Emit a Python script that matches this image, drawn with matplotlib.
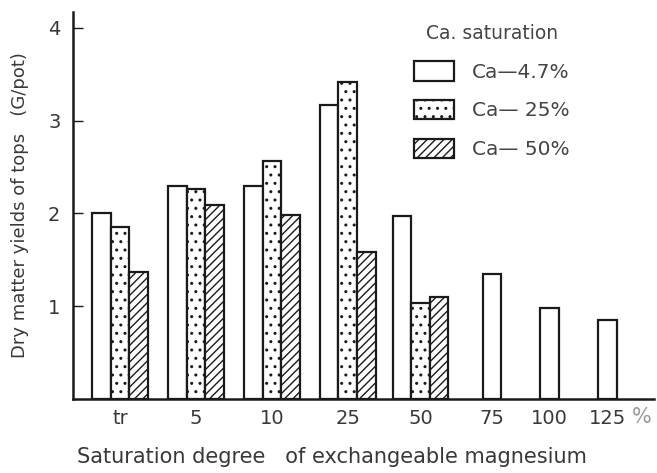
import matplotlib
matplotlib.use("Agg")
import matplotlib.pyplot as plt
from matplotlib.patches import Patch

plt.rcParams['font.family'] = ['DejaVu Sans']
plt.rcParams['hatch.linewidth'] = 1.0

# Mg saturation levels and dry matter yields (G/pot) for each Ca level
mg_levels = ['tr', '5', '10', '25', '50', '75', '100', '125']
ca_4_7 = [2.00, 2.30, 2.29, 3.17, 1.97, 1.35, 0.98, 0.85]
ca_25 = [1.85, 2.26, 2.56, 3.41, 1.04]
ca_50 = [1.37, 2.09, 1.98, 1.59, 1.10]
series_names = ['Ca\u20144.7%', 'Ca\u2014 25%', 'Ca\u2014 50%']

# group centres: three-bar groups are wider apart than the single bars
centres = [0, 1, 2, 3, 3.96, 4.9, 5.66, 6.42]
w = 0.245
ink = '#1a1a1a'
txt = '#383838'

fig = plt.figure(figsize=(6.57, 4.73), dpi=100)
ax = fig.add_axes([0.111, 0.156, 0.885, 0.819])

n3 = len(ca_25)
x_white = [c - w if i < n3 else c for i, c in enumerate(centres)]
ax.bar(x_white, ca_4_7, width=w, facecolor='white', edgecolor=ink, linewidth=1.6)
ax.bar(centres[:n3], ca_25, width=w, facecolor='white', edgecolor=ink,
       linewidth=1.6, hatch='..')
ax.bar([c + w for c in centres[:n3]], ca_50, width=w, facecolor='white',
       edgecolor=ink, linewidth=1.6, hatch='////')

ax.set_xlim(-0.62, 7.04)
ax.set_ylim(0, 4.17)
ax.set_xticks(centres)
ax.set_xticklabels(mg_levels)
ax.tick_params(axis='x', length=0, pad=7, labelsize=14, colors=txt)
ax.set_yticks([1, 2, 3, 4])
ax.tick_params(axis='y', direction='in', length=7, width=1, pad=9,
               labelsize=14, colors=ink, labelcolor=txt)
ax.text(6.74, -0.19, '%', fontsize=15, color='#999999', ha='left', va='center')

for s in ['top', 'right']:
    ax.spines[s].set_visible(False)
for s in ['left', 'bottom']:
    ax.spines[s].set_linewidth(1.8)
    ax.spines[s].set_color(ink)

ax.set_ylabel('Dry matter yields of tops   (G/pot)', fontsize=13,
              color=txt, labelpad=14)
fig.text(0.505, 0.022, 'Saturation degree   of exchangeable magnesium',
         fontsize=15, color=txt, ha='center')

handles = [Patch(facecolor='white', edgecolor=ink, linewidth=1.6),
           Patch(facecolor='white', edgecolor=ink, linewidth=1.6, hatch='..'),
           Patch(facecolor='white', edgecolor=ink, linewidth=1.6, hatch='////')]
leg = ax.legend(handles, series_names, title='Ca. saturation',
                loc='upper left', bbox_to_anchor=(0.555, 1.015),
                frameon=False, fontsize=14.5, title_fontsize=13.5,
                handlelength=2.0, handleheight=1.1, labelspacing=0.9,
                handletextpad=0.9)
for t in leg.get_texts():
    t.set_color('#444444')
leg.get_title().set_color('#444444')

fig.savefig('out.png', dpi=100)
